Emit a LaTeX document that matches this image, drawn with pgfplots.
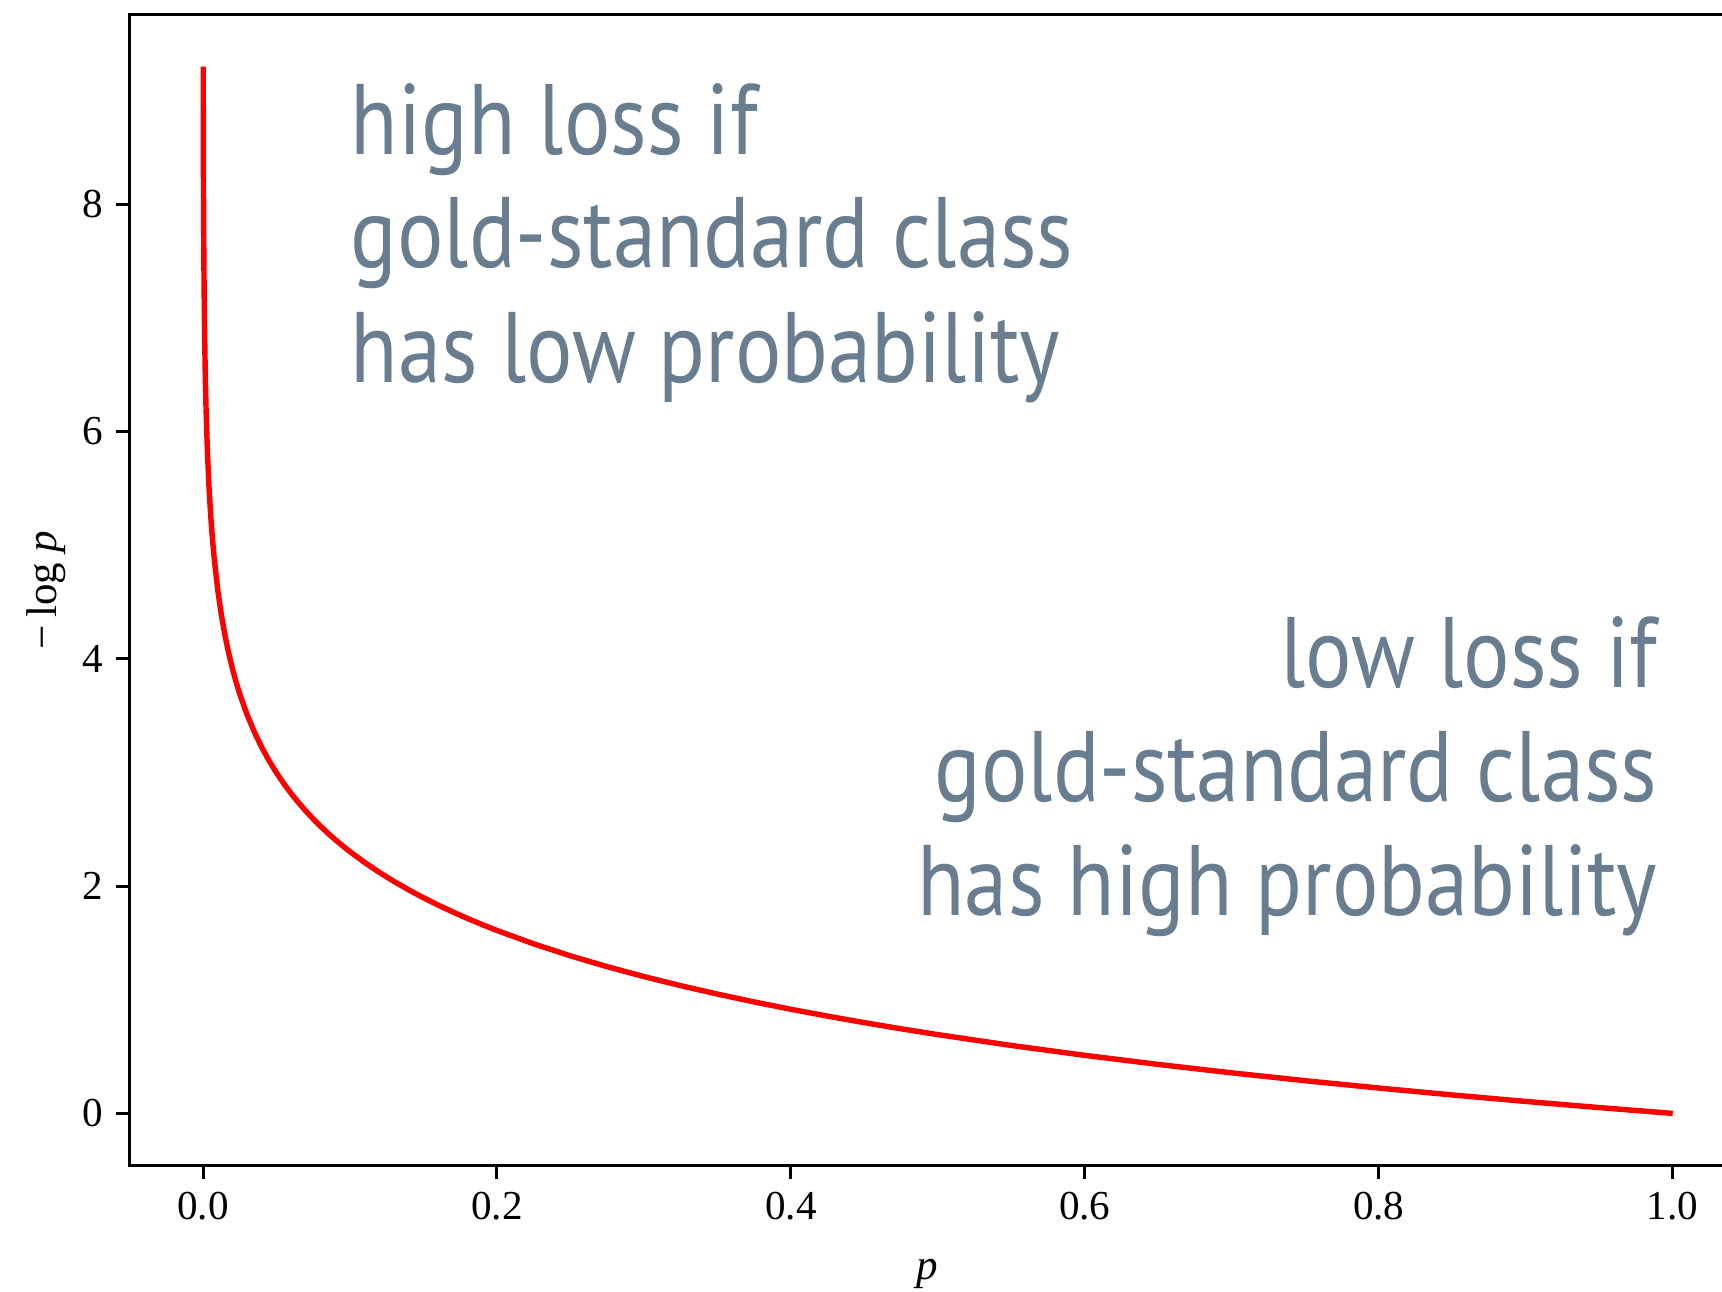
\documentclass[border=0pt]{standalone}
\usepackage{fontspec}
\setmainfont{Liberation Serif}
\newfontfamily\annfont{PT Sans}[FakeStretch=0.866]
\usepackage{pgfplots}
\pgfplotsset{compat=1.18}
\definecolor{anncol}{RGB}{105,125,144}
\begin{document}
\begin{tikzpicture}
\begin{axis}[
  scale only axis,
  width=426.8pt, height=307.9pt,
  xmin=-0.05, xmax=1.0361,
  ymin=-0.4605, ymax=9.671,
  clip=false,
  axis line style={line width=0.8pt},
  tick style={line width=0.8pt, black},
  tick align=outside,
  tick pos=left,
  major tick length=3.5pt,
  xtick={0,0.2,0.4,0.6,0.8,1.0},
  ytick={0,2,4,6,8},
  xticklabel style={/pgf/number format/.cd, fixed, fixed zerofill, precision=1},
  /pgf/number format/assume math mode=true,
  ticklabel style={font=\fontsize{11}{13}\selectfont},
  xlabel={\textit{p}},
  ylabel={−\,log \textit{p}},
  label style={font=\fontsize{11.5}{13}\selectfont, inner sep=0pt},
  x label style={at={([yshift=-29pt]axis description cs:0.5,0)}, anchor=center},
  y label style={at={([xshift=-22.4pt]axis description cs:0,0.5)}, anchor=center},
]
\addplot[red, line width=1.45pt, line join=round] coordinates {
(0.0001,9.2103) (0.0002,8.5172) (0.0003,8.1117) (0.0004,7.8240) (0.0005,7.6009)
(0.0007,7.2644) (0.001,6.9078) (0.0015,6.5023) (0.002,6.2146) (0.003,5.8091)
(0.004,5.5215) (0.005,5.2983) (0.006,5.1160) (0.0075,4.8929) (0.01,4.6052)
(0.0125,4.3820) (0.015,4.1997) (0.0175,4.0456) (0.02,3.9120) (0.0225,3.7942)
(0.025,3.6889) (0.03,3.5066) (0.035,3.3524) (0.04,3.2189) (0.045,3.1011)
(0.05,2.9957) (0.055,2.9004) (0.06,2.8134) (0.065,2.7334) (0.07,2.6593)
(0.075,2.5903) (0.08,2.5257) (0.085,2.4651) (0.09,2.4079) (0.095,2.3539)
(0.10,2.3026) (0.11,2.2073) (0.12,2.1203) (0.13,2.0402) (0.14,1.9661)
(0.15,1.8971) (0.16,1.8326) (0.17,1.7720) (0.18,1.7148) (0.19,1.6607)
(0.2,1.6094) (0.225,1.4917) (0.25,1.3863) (0.275,1.2910) (0.3,1.2040)
(0.325,1.1239) (0.35,1.0498) (0.375,0.9808) (0.4,0.9163) (0.425,0.8557)
(0.45,0.7985) (0.475,0.7444) (0.5,0.6931) (0.55,0.5978) (0.6,0.5108)
(0.65,0.4308) (0.7,0.3567) (0.75,0.2877) (0.8,0.2231) (0.85,0.1625)
(0.9,0.1054) (0.95,0.0513) (1.0,0.0)
};
\tikzset{ann/.style={inner sep=0pt, text=anncol, font=\annfont\fontsize{26.8}{30}\selectfont}}
\node[ann, anchor=base west] at (axis cs:0.1,8.44) {high loss if};
\node[ann, anchor=base west] at (axis cs:0.1,7.44) {gold-standard class};
\node[ann, anchor=base west] at (axis cs:0.1,6.43) {has low probability};
\node[ann, anchor=base east] at (axis cs:0.99,3.75) {low loss if};
\node[ann, anchor=base east] at (axis cs:0.99,2.74) {gold-standard class};
\node[ann, anchor=base east] at (axis cs:0.99,1.74) {has high probability};
\end{axis}
\pgfresetboundingbox
\useasboundingbox ([xshift=-34.65pt,yshift=-33.7pt]current axis.south west) rectangle ([xshift=-1pt,yshift=3.8pt]current axis.north east);
\end{tikzpicture}
\end{document}
